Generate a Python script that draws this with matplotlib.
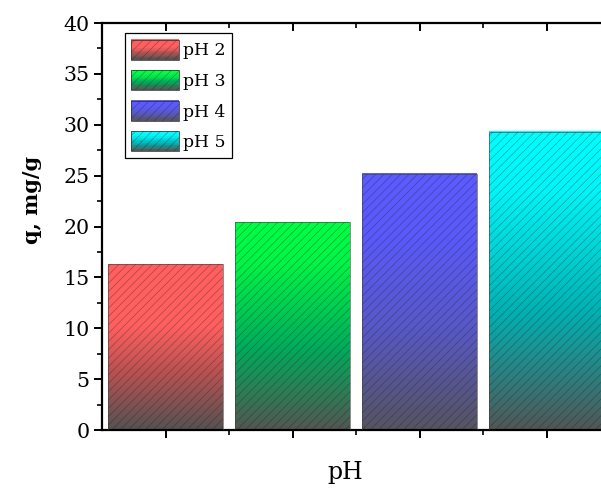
import numpy as np
import matplotlib
matplotlib.use("Agg")
import matplotlib.pyplot as plt
from matplotlib.patches import Rectangle
from matplotlib.legend_handler import HandlerBase
from matplotlib.ticker import MultipleLocator, FixedLocator

plt.rcParams['font.family'] = ['DejaVu Serif']
plt.rcParams['hatch.linewidth'] = 0.5

# data
labels = ["pH 2", "pH 3", "pH 4", "pH 5"]
positions = [1, 2, 3, 4]
q_values = [16.3, 20.4, 25.2, 29.3]

# gradient stops (fraction of bar height, rgb 0-255), bottom -> top
grad_stops = [
    [(0.0, (85, 82, 82)), (0.35, (185, 82, 82)), (0.62, (255, 95, 95)), (1.0, (255, 95, 95))],
    [(0.0, (82, 86, 82)), (0.4, (0, 172, 92)), (0.8, (0, 245, 70)), (1.0, (0, 255, 70))],
    [(0.0, (86, 84, 96)), (0.4, (88, 88, 200)), (0.75, (90, 90, 250)), (1.0, (92, 92, 255))],
    [(0.0, (82, 86, 86)), (0.4, (0, 178, 180)), (0.8, (0, 245, 248)), (1.0, (0, 255, 255))],
]
hatch_col = (0.1, 0.1, 0.1, 0.38)


def grad_colors(stops, n):
    t = np.linspace(0, 1, n)
    fr = [s[0] for s in stops]
    cols = np.array([s[1] for s in stops], dtype=float) / 255.0
    out = np.stack([np.interp(t, fr, cols[:, k]) for k in range(3)], axis=1)
    return out


fig = plt.figure(figsize=(6.01, 4.88), dpi=100)
ax = fig.add_axes([102 / 601, 58 / 488, 508 / 601, 407 / 488])

width = 0.9
for x, h, st in zip(positions, q_values, grad_stops):
    img = grad_colors(st, 200)[::-1].reshape(200, 1, 3)
    ax.imshow(img, extent=[x - width / 2, x + width / 2, 0, h], aspect='auto',
              interpolation='bilinear', zorder=1)
    ax.bar(x, h, width=width, facecolor='none', edgecolor=hatch_col, linewidth=0,
           hatch='////', zorder=2)
    ax.bar(x, h, width=width, facecolor='none', edgecolor=(0.25, 0.25, 0.25, 0.7),
           linewidth=0.6, zorder=3)

ax.set_xlim(0.5, 4.5)
ax.set_ylim(0, 40)

for s in ax.spines.values():
    s.set_linewidth(1.6)

ax.yaxis.set_major_locator(MultipleLocator(5))
ax.yaxis.set_minor_locator(MultipleLocator(2.5))
ax.xaxis.set_major_locator(FixedLocator(positions))
ax.xaxis.set_minor_locator(FixedLocator([1.5, 2.5, 3.5]))
ax.set_xticklabels([])
ax.tick_params(axis='both', which='major', direction='out', length=6, width=1.4,
               labelsize=14.8, top=True, right=True)
ax.tick_params(axis='both', which='minor', direction='out', length=3.5, width=1.2,
               top=True, right=True)
# ticks on top/right point inward
for t in ax.xaxis.get_major_ticks() + ax.xaxis.get_minor_ticks():
    t.tick2line.set_marker(3)
for t in ax.yaxis.get_major_ticks() + ax.yaxis.get_minor_ticks():
    t.tick2line.set_marker(0)
ax.yaxis.set_tick_params(pad=3)

ax.set_ylabel("q, mg/g", fontsize=15, fontweight='bold')
ax.yaxis.set_label_coords(-0.118, (430 - 200) / 407)
ax.set_xlabel("pH", fontsize=17)
ax.xaxis.set_label_coords((345 - 102) / 508, -0.075)


class GradHandler(HandlerBase):
    def __init__(self, stops):
        super().__init__()
        self.stops = stops

    def create_artists(self, legend, orig_handle, xdescent, ydescent, width, height,
                       fontsize, trans):
        n = 16
        cols = grad_colors(self.stops, n)
        arts = []
        for i in range(n):
            r = Rectangle((-xdescent, -ydescent + height * i / n), width, height / n + 0.3,
                          facecolor=cols[i], edgecolor='none', linewidth=0, transform=trans)
            arts.append(r)
        hr = Rectangle((-xdescent, -ydescent), width, height, facecolor='none',
                       edgecolor=hatch_col, linewidth=0, hatch='////', transform=trans)
        br = Rectangle((-xdescent, -ydescent), width, height, facecolor='none',
                       edgecolor=(0.2, 0.2, 0.2, 0.8), linewidth=0.7, transform=trans)
        arts += [hr, br]
        return arts


handles = [Rectangle((0, 0), 1, 1) for _ in labels]
handler_map = {h: GradHandler(st) for h, st in zip(handles, grad_stops)}
leg = ax.legend(handles, labels, handler_map=handler_map, loc='upper left',
                bbox_to_anchor=(0.045, 0.975), fontsize=12.4, frameon=True, fancybox=False,
                edgecolor='black', framealpha=1, handlelength=2.75, handleheight=1.4,
                labelspacing=0.62, handletextpad=0.25, borderpad=0.38, borderaxespad=0)
leg.get_frame().set_linewidth(0.9)
leg.set_zorder(5)

fig.savefig("out.png", dpi=100)
